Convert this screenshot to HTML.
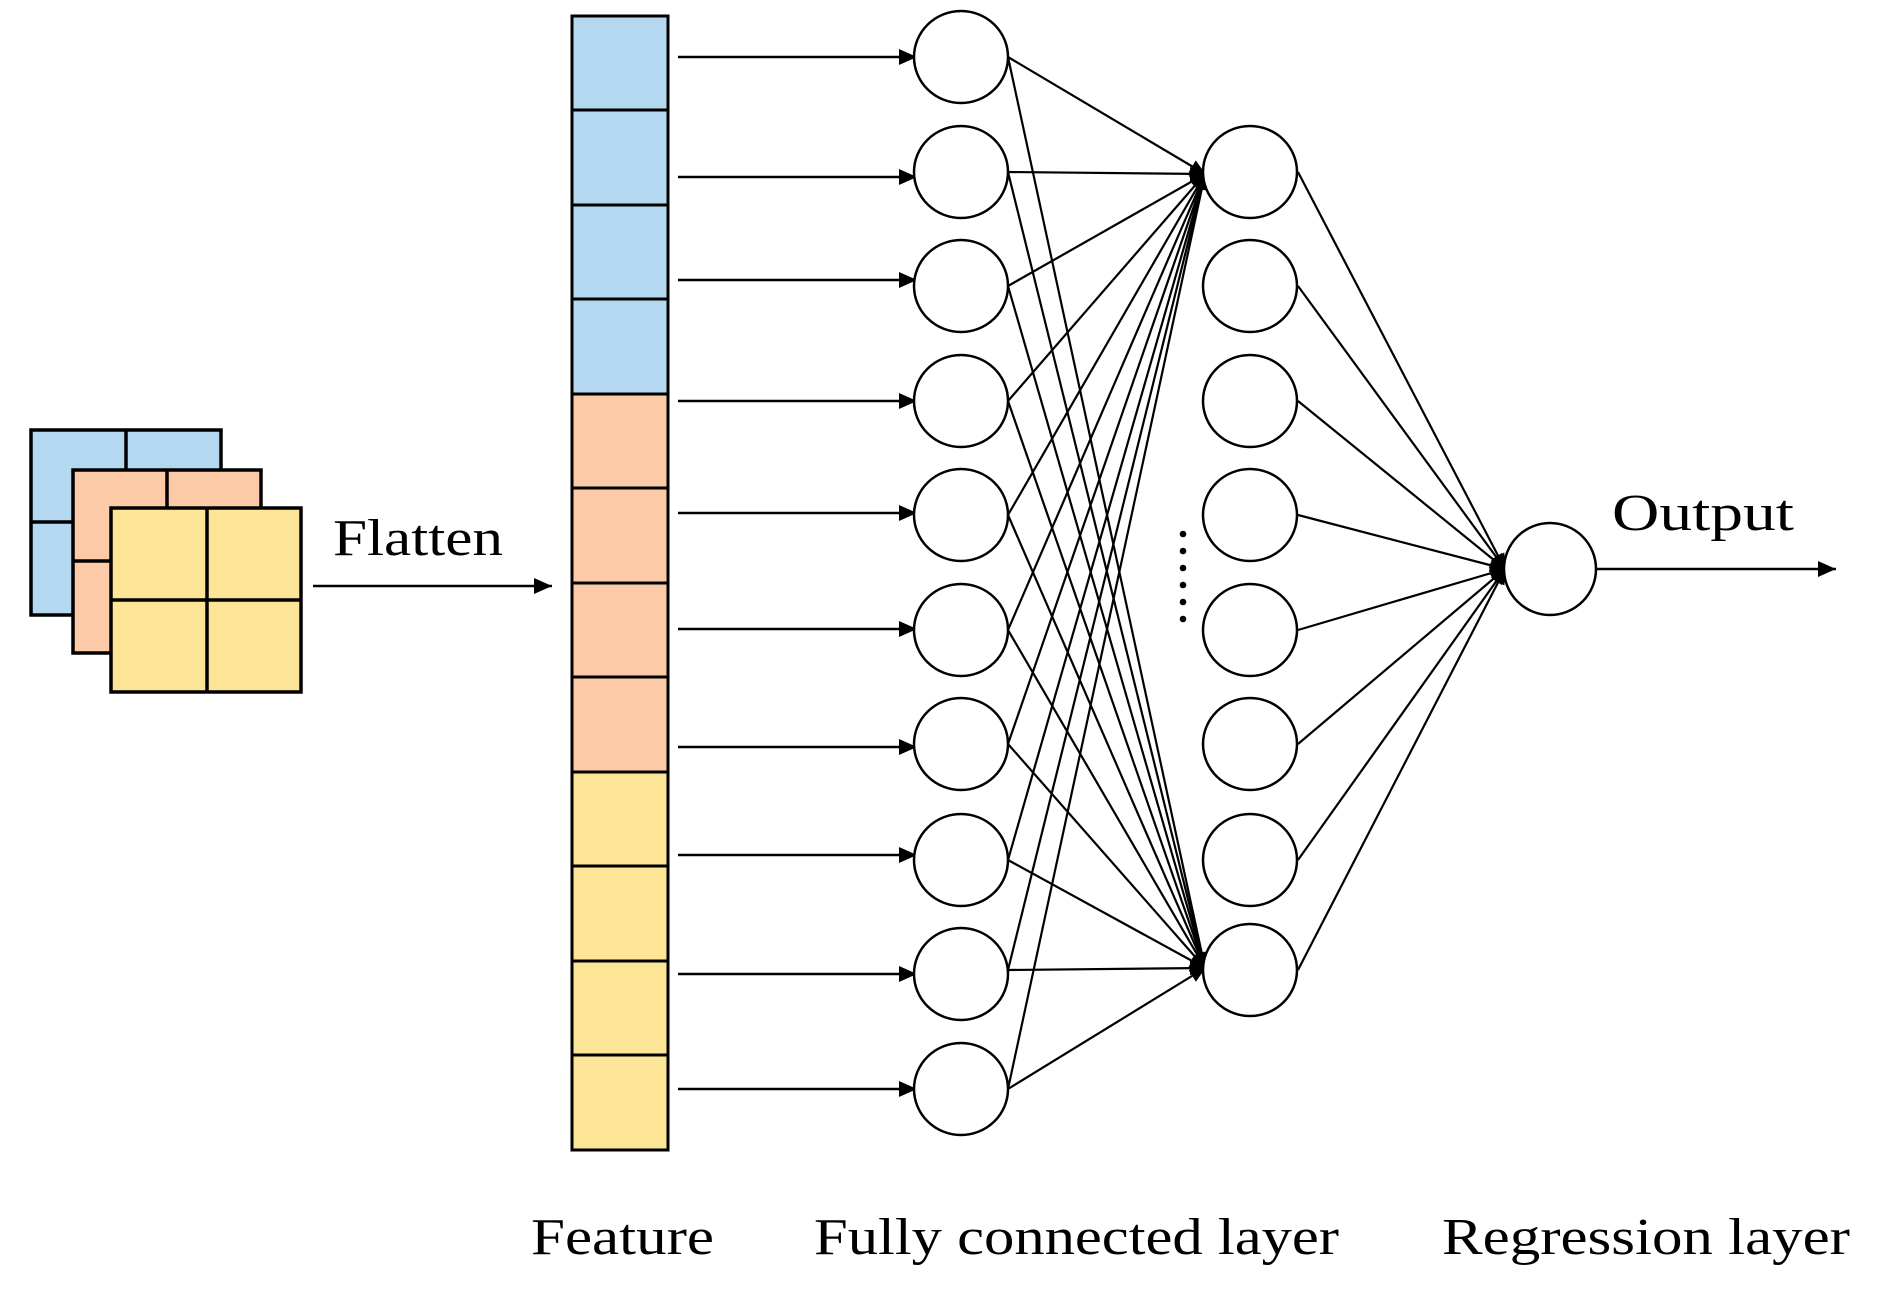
<!DOCTYPE html>
<html><head><meta charset="utf-8"><style>html,body{margin:0;padding:0;background:#fff}svg{display:block}</style></head><body>
<svg width="1888" height="1302" viewBox="0 0 1888 1302" xmlns="http://www.w3.org/2000/svg">
<defs>
<marker id="a" markerWidth="16" markerHeight="14" refX="15" refY="7" orient="auto" markerUnits="userSpaceOnUse" viewBox="0 0 16 14"><path d="M0,0 L16,7 L0,14 z" fill="#000"/></marker>
<marker id="b" markerWidth="18" markerHeight="16" refX="18" refY="8" orient="auto" markerUnits="userSpaceOnUse" viewBox="0 0 18 16"><path d="M0,0 L18,8 L0,16 z" fill="#000"/></marker>
</defs>
<g stroke="#000" stroke-width="3.5">
<rect x="31" y="430" width="190" height="185" fill="#b4d8ef"/>
<line x1="126" y1="430" x2="126" y2="470"/><line x1="31" y1="522" x2="73" y2="522"/>
<rect x="73" y="470" width="188" height="183" fill="#fdcaa8"/>
<line x1="167" y1="470" x2="167" y2="508"/><line x1="73" y1="561" x2="111" y2="561"/>
<rect x="111" y="508" width="190" height="184" fill="#fde597"/>
<line x1="207" y1="508" x2="207" y2="692"/><line x1="111" y1="600" x2="301" y2="600"/>
</g>
<line x1="313" y1="586" x2="552" y2="586" stroke="#000" stroke-width="2.5" marker-end="url(#b)"/>
<text x="333" y="555" font-family="Liberation Serif, serif" font-size="52" textLength="170" lengthAdjust="spacingAndGlyphs">Flatten</text>
<g stroke="#000" stroke-width="3">
<rect x="572" y="16" width="96" height="378" fill="#b4d8ef"/>
<rect x="572" y="394" width="96" height="378" fill="#fdcaa8"/>
<rect x="572" y="772" width="96" height="378" fill="#fde597"/>
<line x1="572" y1="110" x2="668" y2="110"/><line x1="572" y1="205" x2="668" y2="205"/><line x1="572" y1="299" x2="668" y2="299"/>
<line x1="572" y1="488" x2="668" y2="488"/><line x1="572" y1="583" x2="668" y2="583"/><line x1="572" y1="677" x2="668" y2="677"/>
<line x1="572" y1="866" x2="668" y2="866"/><line x1="572" y1="961" x2="668" y2="961"/><line x1="572" y1="1055" x2="668" y2="1055"/>
</g>
<g stroke="#000" stroke-width="2.4" marker-end="url(#b)">
<line x1="678" y1="57" x2="917" y2="57"/><line x1="678" y1="177" x2="917" y2="177"/><line x1="678" y1="280" x2="917" y2="280"/>
<line x1="678" y1="401" x2="917" y2="401"/><line x1="678" y1="513" x2="917" y2="513"/><line x1="678" y1="629" x2="917" y2="629"/>
<line x1="678" y1="747" x2="917" y2="747"/><line x1="678" y1="855" x2="917" y2="855"/><line x1="678" y1="974" x2="917" y2="974"/>
<line x1="678" y1="1089" x2="917" y2="1089"/>
</g>
<g stroke="#000" stroke-width="2.2" marker-end="url(#a)">
<line x1="1008" y1="57" x2="1205" y2="174"/><line x1="1008" y1="172" x2="1205" y2="174"/><line x1="1008" y1="286" x2="1205" y2="174"/>
<line x1="1008" y1="401" x2="1205" y2="174"/><line x1="1008" y1="515" x2="1205" y2="174"/><line x1="1008" y1="630" x2="1205" y2="174"/>
<line x1="1008" y1="744" x2="1205" y2="174"/><line x1="1008" y1="860" x2="1205" y2="174"/><line x1="1008" y1="970" x2="1205" y2="174"/>
<line x1="1008" y1="1089" x2="1205" y2="174"/>
<line x1="1008" y1="57" x2="1205" y2="968"/><line x1="1008" y1="172" x2="1205" y2="968"/><line x1="1008" y1="286" x2="1205" y2="968"/>
<line x1="1008" y1="401" x2="1205" y2="968"/><line x1="1008" y1="515" x2="1205" y2="968"/><line x1="1008" y1="630" x2="1205" y2="968"/>
<line x1="1008" y1="744" x2="1205" y2="968"/><line x1="1008" y1="860" x2="1205" y2="968"/><line x1="1008" y1="970" x2="1205" y2="968"/>
<line x1="1008" y1="1089" x2="1205" y2="968"/>
<line x1="1298" y1="172" x2="1505" y2="569"/><line x1="1298" y1="286" x2="1505" y2="569"/><line x1="1298" y1="401" x2="1505" y2="569"/>
<line x1="1298" y1="515" x2="1505" y2="569"/><line x1="1298" y1="630" x2="1505" y2="569"/><line x1="1298" y1="744" x2="1505" y2="569"/>
<line x1="1298" y1="860" x2="1505" y2="569"/><line x1="1298" y1="970" x2="1505" y2="569"/>
</g>
<g fill="#fff" stroke="#000" stroke-width="2.5">
<ellipse cx="961" cy="57" rx="47" ry="46"/><ellipse cx="961" cy="172" rx="47" ry="46"/><ellipse cx="961" cy="286" rx="47" ry="46"/>
<ellipse cx="961" cy="401" rx="47" ry="46"/><ellipse cx="961" cy="515" rx="47" ry="46"/><ellipse cx="961" cy="630" rx="47" ry="46"/>
<ellipse cx="961" cy="744" rx="47" ry="46"/><ellipse cx="961" cy="860" rx="47" ry="46"/><ellipse cx="961" cy="974" rx="47" ry="46"/>
<ellipse cx="961" cy="1089" rx="47" ry="46"/>
<ellipse cx="1250" cy="172" rx="47" ry="46"/><ellipse cx="1250" cy="286" rx="47" ry="46"/><ellipse cx="1250" cy="401" rx="47" ry="46"/>
<ellipse cx="1250" cy="515" rx="47" ry="46"/><ellipse cx="1250" cy="630" rx="47" ry="46"/><ellipse cx="1250" cy="744" rx="47" ry="46"/>
<ellipse cx="1250" cy="860" rx="47" ry="46"/><ellipse cx="1250" cy="970" rx="47" ry="46"/>
<ellipse cx="1550" cy="569" rx="46" ry="46"/>
</g>
<g fill="#000">
<circle cx="1183" cy="534" r="3.3"/><circle cx="1183" cy="551" r="3.3"/><circle cx="1183" cy="568" r="3.3"/>
<circle cx="1183" cy="585" r="3.3"/><circle cx="1183" cy="602" r="3.3"/><circle cx="1183" cy="619" r="3.3"/>
</g>
<line x1="1596" y1="569" x2="1836" y2="569" stroke="#000" stroke-width="2.5" marker-end="url(#b)"/>
<text x="1612" y="530" font-family="Liberation Serif, serif" font-size="52" textLength="182" lengthAdjust="spacingAndGlyphs">Output</text>
<g font-family="Liberation Serif, serif" font-size="52">
<text x="531" y="1254" textLength="183" lengthAdjust="spacingAndGlyphs">Feature</text>
<text x="814" y="1254" textLength="525" lengthAdjust="spacingAndGlyphs">Fully connected layer</text>
<text x="1442" y="1254" textLength="408" lengthAdjust="spacingAndGlyphs">Regression layer</text>
</g>
</svg>
</body></html>
